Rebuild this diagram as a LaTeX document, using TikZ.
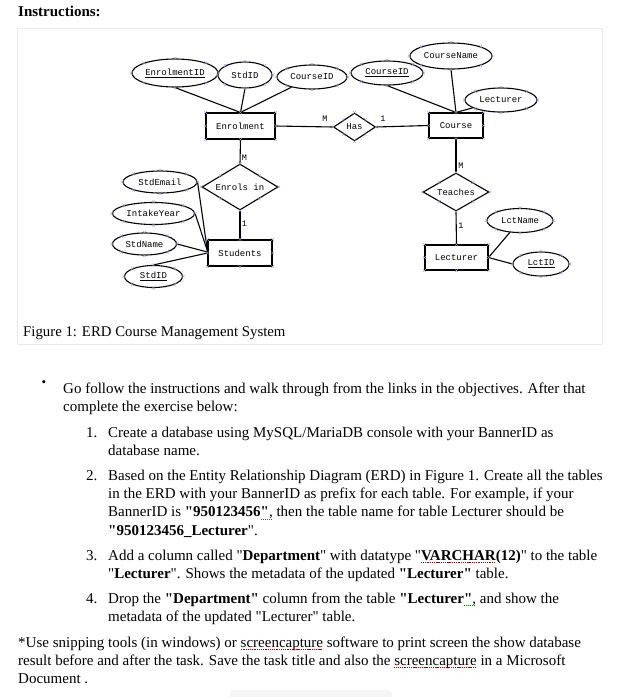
\documentclass[tikz,border=0pt]{standalone}
\usepackage{fontspec}
\setmainfont{Liberation Serif}[Ligatures=TeXOff]
\newfontfamily\erdfont{Liberation Mono}
\usetikzlibrary{shapes.geometric}
\newsavebox\spbox
\newcommand\spellmark[2]{\sbox\spbox{#2}\usebox\spbox\llap{\raisebox{-3.2pt}{\color{#1}\hbox to \wd\spbox{\xleaders\hbox{\rule{1.1pt}{1.1pt}\kern0.7pt}\hfill}}}}
\newcommand\spellred[1]{\spellmark{red!70!black}{#1}}
\newcommand\spellgreen[1]{\spellmark{green!55!black}{#1}}
\newcommand\selmarks[1]{\foreach \a in {north,south,east,west,north east,north west,south east,south west}{\draw[selmk] (#1.\a) ++(-1.5,-1.5) -- ++(3,3) ++(0,-3) -- ++(-3,3);}}
\begin{document}
\begin{tikzpicture}[x=1pt,y=-1pt,
  erd/.style={line width=1.1pt, inner sep=0pt, font=\erdfont\fontsize{9}{10}\selectfont},
  ent/.style={erd, draw, rectangle},
  att/.style={erd, draw, ellipse},
  rel/.style={erd, draw, diamond},
  lnk/.style={line width=1.1pt},
  card/.style={inner sep=0pt, font=\erdfont\fontsize{8.5}{9}\selectfont},
  selmk/.style={draw={rgb,255:red,150;green,150;blue,215}, line width=0.35pt},
  txt/.style={anchor=base west, inner sep=0pt, font=\fontsize{15}{18}\selectfont},
  frame/.style={draw=black!8, line width=0.9pt}]
\useasboundingbox (0,0) rectangle (637,697);
\fill[black!4, rounded corners=4pt] (230,690) rectangle (392,705);

\node[txt, font=\bfseries\fontsize{15}{18}\selectfont] (title) at (18,16) {Instructions:};
\draw[frame] (17,28) rectangle (602,344);

% ---- ERD ----
\node[att, minimum width=86, minimum height=28] (eid) at (175,73) {\underline{EnrolmentID}};
\node[att, minimum width=54, minimum height=26] (sid) at (245,75) {StdID};
\node[att, minimum width=70, minimum height=24] (cid1) at (312,77) {CourseID};
\node[att, minimum width=72, minimum height=24] (cid2) at (387,73) {\underline{CourseID}};
\node[att, minimum width=82, minimum height=26] (cname) at (451,56) {CourseName};
\node[att, minimum width=72, minimum height=24] (lattr) at (501,100) {Lecturer};
\node[ent, minimum width=69, minimum height=26] (enr) at (240.5,126) {Enrolment};
\node[rel, shape aspect=1.5, minimum width=42, minimum height=28] (has) at (354.5,127) {Has};
\node[ent, minimum width=54, minimum height=25] (course) at (456,125.5) {Course};
\node[rel, shape aspect=1.65, minimum width=76, minimum height=46] (enrols) at (240,187) {Enrols in};
\node[ent, minimum width=64, minimum height=26] (stu) at (240,253) {Students};
\node[att, minimum width=74, minimum height=22] (semail) at (160,182) {StdEmail};
\node[att, minimum width=82, minimum height=22] (iyear) at (153.5,213.5) {IntakeYear};
\node[att, minimum width=64, minimum height=22] (sname) at (144.5,244) {StdName};
\node[att, minimum width=58, minimum height=22] (sid2) at (153.5,276.5) {\underline{StdID}};
\node[rel, shape aspect=1.74, minimum width=66, minimum height=38] (teach) at (456,192) {Teaches};
\node[ent, minimum width=63, minimum height=25] (lect) at (456.5,257.5) {Lecturer};
\node[att, minimum width=66, minimum height=24] (lname) at (520,220.5) {LctName};
\node[att, minimum width=56, minimum height=24] (lid) at (541,264) {\underline{LctID}};

\draw[lnk] (eid.south) -- (enr.north);
\draw[lnk] (sid.south) -- (enr.north);
\draw[lnk] (cid1) -- (enr.north);
\draw[lnk] (cid2.south) -- (course.north);
\draw[lnk] (cname.south) -- (course.north);
\draw[lnk] (lattr) -- (course.north);
\draw[lnk] (enr.east) -- (has.west);
\draw[lnk] (has.east) -- (course.west);
\draw[lnk] (enr.south) -- (enrols.north);
\draw[lnk] (enrols.south) -- (stu.north);
\draw[lnk] (course.south) -- (teach.north);
\draw[lnk] (teach.south) -- (lect.north);
\draw[lnk] (semail.east) -- ([yshift=2pt]stu.west);
\draw[lnk] (iyear.east) -- ([yshift=2pt]stu.west);
\draw[lnk] (sname.east) -- ([yshift=1pt]stu.west);
\draw[lnk] (sid2.north) -- (stu.west);
\draw[lnk] (lname) -- (lect.east);
\draw[lnk] (lid.west) -- (lect.east);

\node[card] (m1) at (325,119) {M};
\node[card] (o1) at (383,119) {1};
\node[card] (m2) at (244.5,158) {M};
\node[card] (o2) at (244.5,224) {1};
\node[card] (m3) at (461,166) {M};
\node[card] (o3) at (461,226) {1};

\foreach \n in {eid,sid,cid1,cid2,cname,lattr,enr,has,course,enrols,stu,semail,iyear,sname,sid2,teach,lect,lname,lid}{\selmarks{\n}}

\node[txt, font=\fontsize{14.8}{18}\selectfont] (cap) at (23,336) {Figure 1: ERD Course Management System};

% ---- text ----
\node[inner sep=0pt, font=\fontsize{13}{13}\selectfont] (bul) at (44,384) {•};
\node[txt] (l1) at (63,393) {Go follow the instructions and walk through from the links in the objectives. After that};
\node[txt] (l2) at (63,411) {complete the exercise below:};

\node[txt] (n1) at (86,437) {1.};
\node[txt] (l3) at (108,437) {Create a database using MySQL/MariaDB console with your BannerID as};
\node[txt] (l4) at (108,455) {database name.};

\node[txt] (n2) at (86,480) {2.};
\node[txt] (l5) at (108,480) {Based on the Entity Relationship Diagram (ERD) in Figure 1. Create all the tables};
\node[txt] (l6) at (108,498) {in the ERD with your BannerID as prefix for each table. For example, if your};
\node[txt] (l7) at (108,516.5) {BannerID is \textbf{"950123456}\spellgreen{\textbf{"},} then the table name for table Lecturer should be};
\node[txt] (l8) at (108,535) {\textbf{"950123456\_Lecturer}".};

\node[txt] (n3) at (86,560) {3.};
\node[txt] (l9) at (108,560) {Add a column called "\textbf{Department}" with datatype "\textbf{\spellred{VARCHAR}(12)}" to the table};
\node[txt] (l10) at (108,578) {"\textbf{Lecturer}". Shows the metadata of the updated \textbf{"Lecturer"} table.};

\node[txt] (n4) at (86,603) {4.};
\node[txt] (l11) at (108,603) {Drop the \textbf{"Department"} column from the table \textbf{"Lecturer}\spellgreen{\textbf{"},} and show the};
\node[txt] (l12) at (108,621) {metadata of the updated "Lecturer" table.};

\node[txt] (l13) at (18,647) {*Use snipping tools (in windows) or \spellred{screencapture} software to print screen the show database};
\node[txt] (l14) at (18,665) {result before and after the task. Save the task title and also the \spellred{screencapture} in a Microsoft};
\node[txt] (l15) at (18,683) {Document .};
\end{tikzpicture}
\end{document}
